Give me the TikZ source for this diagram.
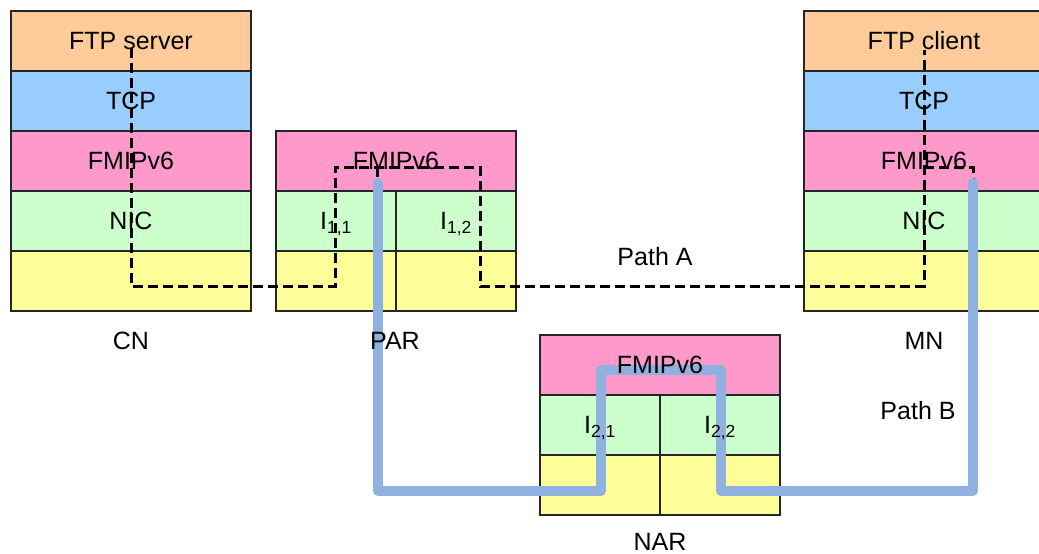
\documentclass[tikz,border=0pt]{standalone}
\usepackage{fontspec}
\setmainfont{Liberation Sans}
\definecolor{corange}{HTML}{FFCC99}
\definecolor{cblue}{HTML}{99CCFF}
\definecolor{cpink}{HTML}{FF99CC}
\definecolor{cgreen}{HTML}{CCFFCC}
\definecolor{cyellow}{HTML}{FFFF99}
\definecolor{pathbcol}{HTML}{8EB1DF}
\begin{document}
\begin{tikzpicture}[x=1pt,y=-1pt,
  cell/.style={draw=black!85, line width=1.3pt, inner sep=0pt, minimum height=60pt},
  wide/.style={cell, minimum width=240pt},
  half/.style={cell, minimum width=120pt},
  lbl/.style={inner sep=0pt, text height=17.5pt, text depth=0pt, font=\fontsize{25}{29}\selectfont},
  patha/.style={draw=black, line width=3pt, dash pattern=on 10pt off 5pt},
  pathb/.style={draw=pathbcol, line width=10pt, line cap=round, line join=round}]
\useasboundingbox (0,0) rectangle (1039,554);
\clip (0,0) rectangle (1039,554);
% CN
\node[wide, fill=corange] (cn1) at (131,41) {};
\node[wide, fill=cblue] (cn2) at (131,101) {};
\node[wide, fill=cpink] (cn3) at (131,161) {};
\node[wide, fill=cgreen] (cn4) at (131,221) {};
\node[wide, fill=cyellow] (cn5) at (131,281) {};
% PAR
\node[wide, fill=cpink] (par1) at (396,161) {};
\node[half, fill=cgreen] (par2) at (336,221) {};
\node[half, fill=cgreen] (par3) at (456,221) {};
\node[half, fill=cyellow] (par4) at (336,281) {};
\node[half, fill=cyellow] (par5) at (456,281) {};
% NAR
\node[wide, fill=cpink] (nar1) at (660,365) {};
\node[half, fill=cgreen] (nar2) at (600,425) {};
\node[half, fill=cgreen] (nar3) at (720,425) {};
\node[half, fill=cyellow] (nar4) at (600,485) {};
\node[half, fill=cyellow] (nar5) at (720,485) {};
% MN
\node[wide, fill=corange] (mn1) at (924,41) {};
\node[wide, fill=cblue] (mn2) at (924,101) {};
\node[wide, fill=cpink] (mn3) at (924,161) {};
\node[wide, fill=cgreen] (mn4) at (924,221) {};
\node[wide, fill=cyellow] (mn5) at (924,281) {};
% Path A coordinates
\coordinate (a0) at (131,48);
\coordinate (a1) at (131,286);
\coordinate (a2) at (335,286);
\coordinate (a3) at (335,167);
\coordinate (a4) at (480,167);
\coordinate (a5) at (480,286);
\coordinate (a6) at (924,286);
\coordinate (a7) at (924,50);
\coordinate (a8) at (377,167);
\coordinate (a9) at (377,182);
\coordinate (a10) at (924,167);
\coordinate (a11) at (973,167);
\coordinate (a12) at (973,182);
\draw[patha] (a0) -- (a1) -- (a2) -- (a3) -- (a4) -- (a5) -- (a6) -- (a7);
\draw[patha] (a8) -- (a9);
\draw[patha] (a10) -- (a11) -- (a12);
% Path B coordinates
\coordinate (b0) at (378,183);
\coordinate (b1) at (378,491);
\coordinate (b2) at (601,491);
\coordinate (b3) at (601,370);
\coordinate (b4) at (721,370);
\coordinate (b5) at (721,491);
\coordinate (b6) at (973,491);
\coordinate (b7) at (973,183);
\draw[pathb] (b0) -- (b1) -- (b2) -- (b3) -- (b4) -- (b5) -- (b6) -- (b7);
% texts
\node[lbl] (cn1t) at (cn1) {FTP server};
\node[lbl] (cn2t) at (cn2) {TCP};
\node[lbl] (cn3t) at (cn3) {FMIPv6};
\node[lbl] (cn4t) at (cn4) {NIC};
\node[lbl] (cnl) at (131,341) {CN};
\node[lbl] (par1t) at (par1) {FMIPv6};
\node[lbl] (par2t) at (par2) {I\textsubscript{1,1}};
\node[lbl] (par3t) at (par3) {I\textsubscript{1,2}};
\node[lbl] (parl) at (395,341) {PAR};
\node[lbl] (nar1t) at (nar1) {FMIPv6};
\node[lbl] (nar2t) at (nar2) {I\textsubscript{2,1}};
\node[lbl] (nar3t) at (nar3) {I\textsubscript{2,2}};
\node[lbl] (narl) at (660,542) {NAR};
\node[lbl] (mn1t) at (mn1) {FTP client};
\node[lbl] (mn2t) at (mn2) {TCP};
\node[lbl] (mn3t) at (mn3) {FMIPv6};
\node[lbl] (mn4t) at (mn4) {NIC};
\node[lbl] (mnl) at (924,341) {MN};
\node[lbl] (pa) at (655,257) {Path A};
\node[lbl] (pb) at (918,411) {Path B};
\end{tikzpicture}
\end{document}
